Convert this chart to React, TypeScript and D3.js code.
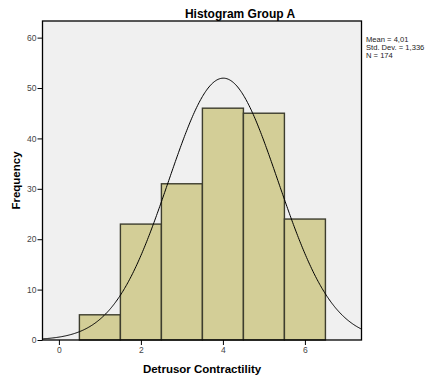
import React, { useEffect, useRef } from "react";
import * as d3 from "d3";

// histogram bins (centre of each bin) and counts
const binCenters = [1, 2, 3, 4, 5, 6];
const counts = [5, 23, 31, 46, 45, 24];
const binWidth = 1;

// stats shown in the legend box, also used for the normal curve
const mean = 4.01;
const stdDev = 1.336;
const total = 174;

const xTicks = [0, 2, 4, 6];
const yTicks = [0, 10, 20, 30, 40, 50, 60];
const statLines = ["Mean = 4,01", "Std. Dev. = 1,336", "N = 174"];

const FONT = "'Liberation Sans', Arial, Helvetica, sans-serif";

export default function App() {
  const ref = useRef<SVGSVGElement>(null);

  useEffect(() => {
    const svg = d3.select(ref.current);
    svg.selectAll("*").remove();

    const width = 431;
    const height = 381;
    const left = 42.5, right = 361.5, top = 21, bottom = 340;

    const x = d3.scaleLinear().domain([-0.4, 7.38]).range([left, right]);
    const y = d3.scaleLinear().domain([0, 63.3]).range([bottom, top]);

    svg.attr("width", width).attr("height", height).style("font-family", FONT);

    svg.append("rect").attr("x", 0).attr("y", 0).attr("width", width).attr("height", height).attr("fill", "#fff");

    svg.append("rect")
      .attr("x", left).attr("y", top)
      .attr("width", right - left).attr("height", bottom - top)
      .attr("fill", "#f0f0f0");

    svg.append("defs").append("clipPath").attr("id", "plotClip")
      .append("rect").attr("x", left).attr("y", top)
      .attr("width", right - left).attr("height", bottom - top);

    // bars
    svg.append("g").selectAll("rect").data(binCenters).join("rect")
      .attr("x", d => x(d - binWidth / 2))
      .attr("y", (d, i) => y(counts[i]))
      .attr("width", d => x(d + binWidth / 2) - x(d - binWidth / 2))
      .attr("height", (d, i) => y(0) - y(counts[i]))
      .attr("fill", "#d3ce97")
      .attr("stroke", "#3d3d2e")
      .attr("stroke-width", 1.4);

    // normal curve from the stats
    const xs = d3.range(-0.4, 7.4, 0.02);
    const dens = (v: number) =>
      total * binWidth / (stdDev * Math.sqrt(2 * Math.PI)) * Math.exp(-0.5 * ((v - mean) / stdDev) ** 2);
    const line = d3.line<number>().x(d => x(d)).y(d => y(dens(d))).curve(d3.curveBasis);
    svg.append("path").datum(xs)
      .attr("d", line)
      .attr("fill", "none")
      .attr("stroke", "#000")
      .attr("stroke-width", 1)
      .attr("clip-path", "url(#plotClip)");

    // frame
    svg.append("rect")
      .attr("x", left).attr("y", top)
      .attr("width", right - left).attr("height", bottom - top)
      .attr("fill", "none").attr("stroke", "#000").attr("stroke-width", 1.3);

    const xAxis = d3.axisBottom(x).tickValues(xTicks).tickSize(5).tickPadding(2).tickFormat(d3.format("d"));
    const yAxis = d3.axisLeft(y).tickValues(yTicks).tickSize(5).tickPadding(1).tickFormat(d3.format("d"));

    const gx = svg.append("g").attr("transform", `translate(0,${bottom})`).call(xAxis);
    const gy = svg.append("g").attr("transform", `translate(${left},0)`).call(yAxis);
    [gx, gy].forEach(g => {
      g.select(".domain").remove();
      g.selectAll("line").attr("stroke", "#000");
      g.selectAll("text").attr("fill", "#444").style("font-size", "8.5px").style("font-family", FONT);
    });

    svg.append("text")
      .attr("x", 240).attr("y", 18)
      .attr("text-anchor", "middle")
      .style("font-size", "12px").style("font-weight", "bold")
      .text("Histogram Group A");

    svg.append("text")
      .attr("x", (left + right) / 2).attr("y", 373)
      .attr("text-anchor", "middle")
      .style("font-size", "11.5px").style("font-weight", "bold")
      .text("Detrusor Contractility");

    svg.append("text")
      .attr("transform", `translate(20,${(top + bottom) / 2}) rotate(-90)`)
      .attr("text-anchor", "middle")
      .style("font-size", "11.5px").style("font-weight", "bold")
      .text("Frequency");

    svg.append("g").selectAll("text").data(statLines).join("text")
      .attr("x", 366)
      .attr("y", (d, i) => 42 + i * 7.8)
      .style("font-size", "7.6px")
      .attr("fill", "#222")
      .text(d => d);
  }, []);

  return (
    <svg ref={ref} style={{ position: "absolute", left: 0, top: 0, display: "block" }} />
  );
}
